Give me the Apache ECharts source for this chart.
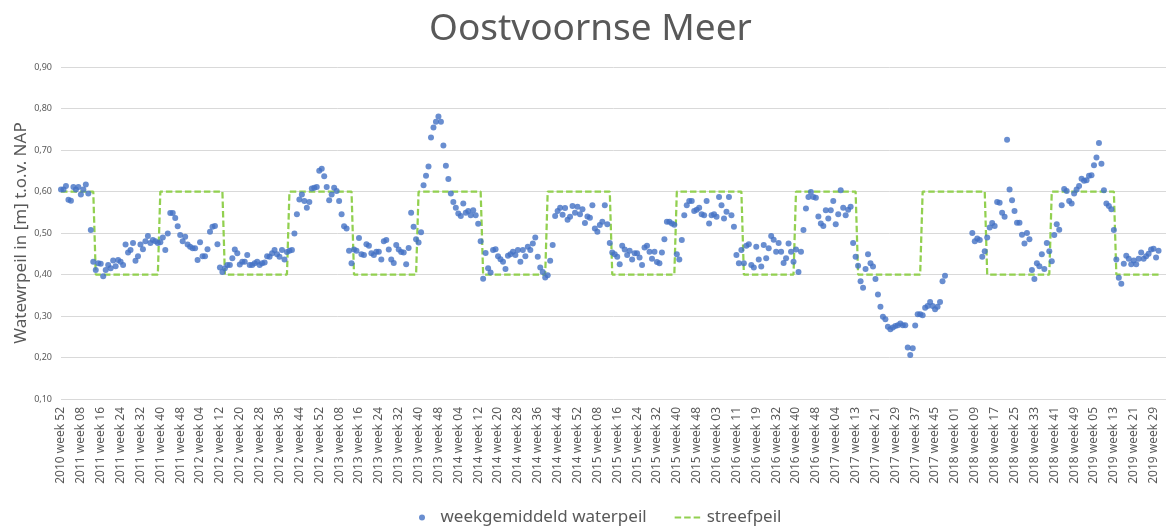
<!DOCTYPE html>
<html>
<head>
<meta charset="utf-8">
<script src="https://cdn.jsdelivr.net/npm/echarts@6/dist/echarts.min.js"></script>
<style>
html,body{margin:0;padding:0;background:#fff;}
#chart{width:1167px;height:526px;}
</style>
</head>
<body>
<div id="chart"></div>
<script>
// ---- categories: [year, firstWeek, lastWeek] ranges present on the axis ----
const weekRanges = [
  [2010, 52, 52],
  [2011, 1, 52],
  [2012, 1, 52],
  [2013, 1, 52],
  [2014, 1, 52],
  [2015, 1, 53],
  [2016, 1, 23],
  [2016, 29, 52],
  [2017, 1, 7],
  [2017, 9, 52],
  [2018, 1, 52],
  [2019, 1, 34]
];

// ---- weekgemiddeld waterpeil (m t.o.v. NAP), in consecutive blocks ----
const wl_2010w52 = [0.605, 0.605, 0.613, 0.580, 0.578, 0.611, 0.605, 0.611, 0.593, 0.605, 0.617, 0.595, 0.507, 0.431];
const wl_2011w14 = [0.411, 0.427, 0.426, 0.396, 0.411, 0.423, 0.415, 0.434, 0.420, 0.435, 0.431, 0.423, 0.472, 0.453, 0.459, 0.476, 0.433, 0.444, 0.472, 0.461, 0.480, 0.493, 0.476, 0.483, 0.480, 0.476];
const wl_2011w40 = [0.478, 0.489, 0.459, 0.499, 0.548, 0.548, 0.536, 0.516, 0.495, 0.480, 0.491, 0.472, 0.467, 0.463, 0.463, 0.435, 0.478, 0.444, 0.444, 0.461, 0.503, 0.515, 0.517, 0.473, 0.417, 0.406];
const wl_2012w14 = [0.415, 0.423, 0.423, 0.439, 0.460, 0.451, 0.424, 0.431, 0.431, 0.447, 0.423, 0.423, 0.427, 0.431, 0.423, 0.427, 0.429, 0.444, 0.443, 0.451, 0.459, 0.449, 0.443, 0.459, 0.436, 0.454];
const wl_2012w40 = [0.457, 0.459, 0.499, 0.545, 0.581, 0.593, 0.577, 0.561, 0.575, 0.607, 0.609, 0.611, 0.650, 0.655, 0.637, 0.611, 0.579, 0.593, 0.609, 0.601, 0.577, 0.545, 0.516, 0.511, 0.457, 0.427];
const wl_2013w14 = [0.460, 0.457, 0.488, 0.449, 0.447, 0.473, 0.469, 0.451, 0.447, 0.455, 0.455, 0.436, 0.480, 0.483, 0.460, 0.436, 0.428, 0.471, 0.460, 0.454, 0.453, 0.425, 0.464, 0.549, 0.515, 0.485];
const wl_2013w40 = [0.477, 0.502, 0.615, 0.638, 0.660, 0.730, 0.754, 0.768, 0.781, 0.768, 0.711, 0.662, 0.630, 0.595, 0.575, 0.561, 0.547, 0.541, 0.571, 0.549, 0.553, 0.543, 0.555, 0.543, 0.522, 0.480];
const wl_2014w14 = [0.390, 0.452, 0.415, 0.405, 0.459, 0.461, 0.444, 0.437, 0.431, 0.413, 0.445, 0.449, 0.455, 0.447, 0.459, 0.431, 0.459, 0.444, 0.467, 0.459, 0.475, 0.489, 0.443, 0.417, 0.406, 0.393];
const wl_2014w40 = [0.398, 0.433, 0.471, 0.541, 0.553, 0.561, 0.544, 0.560, 0.532, 0.539, 0.565, 0.549, 0.563, 0.545, 0.557, 0.524, 0.540, 0.537, 0.567, 0.511, 0.503, 0.519, 0.527, 0.567, 0.521, 0.476];
const wl_2015w14 = [0.453, 0.449, 0.443, 0.425, 0.469, 0.460, 0.447, 0.457, 0.436, 0.451, 0.451, 0.441, 0.423, 0.465, 0.469, 0.455, 0.438, 0.455, 0.430, 0.427, 0.453, 0.485, 0.527, 0.527, 0.523, 0.520];
const wl_2015w40 = [0.449, 0.436, 0.483, 0.543, 0.567, 0.577, 0.577, 0.553, 0.556, 0.561, 0.545, 0.543, 0.577, 0.523, 0.543, 0.545, 0.539, 0.587, 0.567, 0.535, 0.551, 0.587, 0.543, 0.515, 0.447, 0.427, 0.459];
const wl_2016w14 = [0.427, 0.469, 0.473, 0.423, 0.417, 0.467, 0.436, 0.419, 0.471, 0.439, 0.463, 0.493, 0.484, 0.455, 0.476, 0.455, 0.428, 0.439, 0.475, 0.455, 0.431];
const wl_2016w40 = [0.460, 0.406, 0.455, 0.507, 0.559, 0.587, 0.599, 0.587, 0.585, 0.540, 0.523, 0.517, 0.555, 0.535, 0.555, 0.577, 0.521, 0.545, 0.603, 0.561, 0.543, 0.556, 0.563, 0.476, 0.443];
const wl_2017w14 = [0.421, 0.384, 0.368, 0.413, 0.449, 0.427, 0.419, 0.389, 0.352, 0.322, 0.298, 0.292, 0.274, 0.268, 0.272, 0.276, 0.278, 0.282, 0.278, 0.278, 0.224, 0.206, 0.222, 0.277, 0.304, 0.304];
const wl_2017w40 = [0.302, 0.320, 0.324, 0.334, 0.324, 0.316, 0.322, 0.334, 0.384, 0.397, null, null, null, null, null, null, null, null, null, null, 0.500, 0.480, 0.487, 0.483, 0.443, 0.456];
const wl_2018w14 = [0.489, 0.513, 0.524, 0.517, 0.575, 0.573, 0.549, 0.539, 0.725, 0.605, 0.579, 0.553, 0.525, 0.525, 0.496, 0.475, 0.500, 0.485, 0.411, 0.389, 0.427, 0.420, 0.449, 0.413, 0.476, 0.456];
const wl_2018w40 = [0.432, 0.495, 0.521, 0.508, 0.567, 0.606, 0.601, 0.577, 0.571, 0.595, 0.605, 0.613, 0.631, 0.626, 0.627, 0.638, 0.639, 0.663, 0.682, 0.717, 0.667, 0.603, 0.571, 0.565, 0.557, 0.507];
const wl_2019w14 = [0.436, 0.392, 0.378, 0.426, 0.445, 0.438, 0.425, 0.434, 0.425, 0.438, 0.453, 0.438, 0.444, 0.450, 0.460, 0.462, 0.441, 0.457];

// ---- streefpeil: [number of weeks, level] runs ----
const streefpeilRuns = [
  [14, 0.60], [26, 0.40], [26, 0.60], [26, 0.40], [26, 0.60], [26, 0.40],
  [26, 0.60], [26, 0.40], [26, 0.60], [26, 0.40], [27, 0.60], [21, 0.40],
  [25, 0.60], [26, 0.40], [26, 0.60], [26, 0.40], [26, 0.60], [18, 0.40]
];

const yTicks = [0.1, 0.9, 0.1]; // min, max, interval

// ---- build ----
const categories = [];
weekRanges.forEach(([y, a, b]) => {
  for (let w = a; w <= b; w++) categories.push(y + ' week ' + String(w).padStart(2, '0'));
});
const waterpeil = [].concat(wl_2010w52, wl_2011w14, wl_2011w40, wl_2012w14, wl_2012w40, wl_2013w14,
  wl_2013w40, wl_2014w14, wl_2014w40, wl_2015w14, wl_2015w40, wl_2016w14, wl_2016w40,
  wl_2017w14, wl_2017w40, wl_2018w14, wl_2018w40, wl_2019w14);
const streefpeil = [];
streefpeilRuns.forEach(([n, v]) => { for (let i = 0; i < n; i++) streefpeil.push(v); });

const FONT = 'Noto Sans';
const TXT = '#595959';
const chart = echarts.init(document.getElementById('chart'), null, {renderer: 'canvas'});
chart.setOption({
  animation: false,
  backgroundColor: '#ffffff',
  textStyle: {fontFamily: FONT},
  title: {
    text: 'Oostvoornse Meer',
    left: 429, top: 11, padding: 0,
    textStyle: {fontFamily: FONT, fontSize: 37, fontWeight: 'normal', color: TXT}
  },
  legend: {
    left: 419, top: 509, padding: 0,
    itemWidth: 27, itemHeight: 6, itemGap: 27,
    textStyle: {fontFamily: FONT, fontSize: 17, color: TXT},
    data: [
      {name: 'weekgemiddeld waterpeil', icon: 'circle'},
      {name: 'streefpeil', itemStyle: {opacity: 0}}
    ]
  },
  grid: {left: 61, right: 1, top: 67, bottom: 127},
  xAxis: {
    type: 'category',
    data: categories,
    boundaryGap: false,
    axisLine: {show: false},
    axisTick: {show: false},
    splitLine: {show: false},
    axisLabel: {interval: 7, rotate: 90, fontSize: 12, color: TXT, margin: 8, fontFamily: FONT}
  },
  yAxis: {
    type: 'value',
    min: yTicks[0], max: yTicks[1], interval: yTicks[2],
    name: 'Watewrpeil in [m] t.o.v. NAP',
    nameLocation: 'middle', nameGap: 31, nameMoveOverlap: false,
    nameTextStyle: {fontFamily: FONT, fontSize: 17, color: TXT},
    axisLine: {show: false},
    axisTick: {show: false},
    axisLabel: {
      fontSize: 9, color: TXT, margin: 9, fontFamily: FONT,
      formatter: v => v.toFixed(2).replace('.', ',')
    },
    splitLine: {lineStyle: {color: '#d9d9d9', width: 1}}
  },
  series: [
    {
      name: 'weekgemiddeld waterpeil',
      type: 'scatter',
      data: waterpeil,
      symbol: 'circle',
      symbolSize: 6,
      itemStyle: {color: '#4472C4'},
      z: 3
    },
    {
      name: 'streefpeil',
      type: 'line',
      data: streefpeil,
      symbol: 'none',
      lineStyle: {color: '#92D050', width: 2.25, type: [6.5, 3]},
      itemStyle: {color: '#92D050'},
      z: 2
    }
  ]
});
</script>
</body>
</html>
